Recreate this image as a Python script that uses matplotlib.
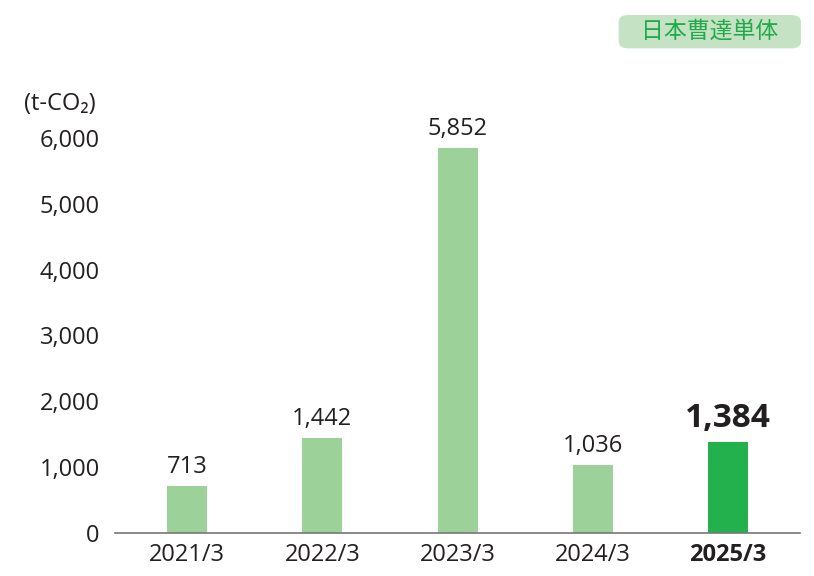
import matplotlib
matplotlib.use('Agg')
import matplotlib.pyplot as plt
from matplotlib.patches import FancyBboxPatch
import numpy as np

years = ['2021/3', '2022/3', '2023/3', '2024/3', '2025/3']
values = [713, 1442, 5852, 1036, 1384]
yticks = [0, 1000, 2000, 3000, 4000, 5000, 6000]

plt.rcParams['font.family'] = ['Open Sans', 'Noto Sans', 'Noto Sans CJK JP', 'DejaVu Sans']
txt = '#231f20'
light = '#9dd19a'
dark = '#22b14c'

fig = plt.figure(figsize=(8.14, 5.76), dpi=100)
ax = fig.add_axes([0.1413, 0.0747, 0.8417, 0.6858])

ind = np.arange(len(years))
colors = [light] * (len(years) - 1) + [dark]
ax.bar(ind, values, width=0.296, color=colors, zorder=2)

for i, v in enumerate(values):
    last = i == len(values) - 1
    ax.text(i, v + 100, f'{v:,}', ha='center', va='bottom', color=txt,
            fontsize=24 if last else 17, fontweight='bold' if last else 'normal',
            clip_on=False)

ax.set_xlim(-0.533, 4.533)
ax.set_ylim(0, 6000)
ax.set_xticks(ind)
ax.set_xticklabels(years)
ax.set_yticks(yticks)
ax.set_yticklabels([f'{t:,}' for t in yticks])
ax.tick_params(axis='both', length=0, labelsize=17, colors=txt)
ax.tick_params(axis='y', pad=11)
ax.tick_params(axis='x', pad=7)
lbls = ax.get_xticklabels()
lbls[-1].set_fontweight('bold')

for s in ['top', 'right', 'left']:
    ax.spines[s].set_visible(False)
ax.spines['bottom'].set_color('#777777')
ax.spines['bottom'].set_linewidth(1.2)

fig.text(0.03, 0.82, '(t-CO\u2082)', fontsize=17, color=txt, ha='left', va='center')

badge = FancyBboxPatch((0.76, 0.916), 0.224, 0.058,
                       boxstyle='round,pad=0,rounding_size=0.012',
                       transform=fig.transFigure, facecolor='#c5e3c4',
                       edgecolor='none')
fig.patches.append(badge)
fig.text(0.872, 0.945, '日本曹達単体', fontsize=16.5, color='#22a94a',
         ha='center', va='center')

plt.savefig('out.png', dpi=100)
